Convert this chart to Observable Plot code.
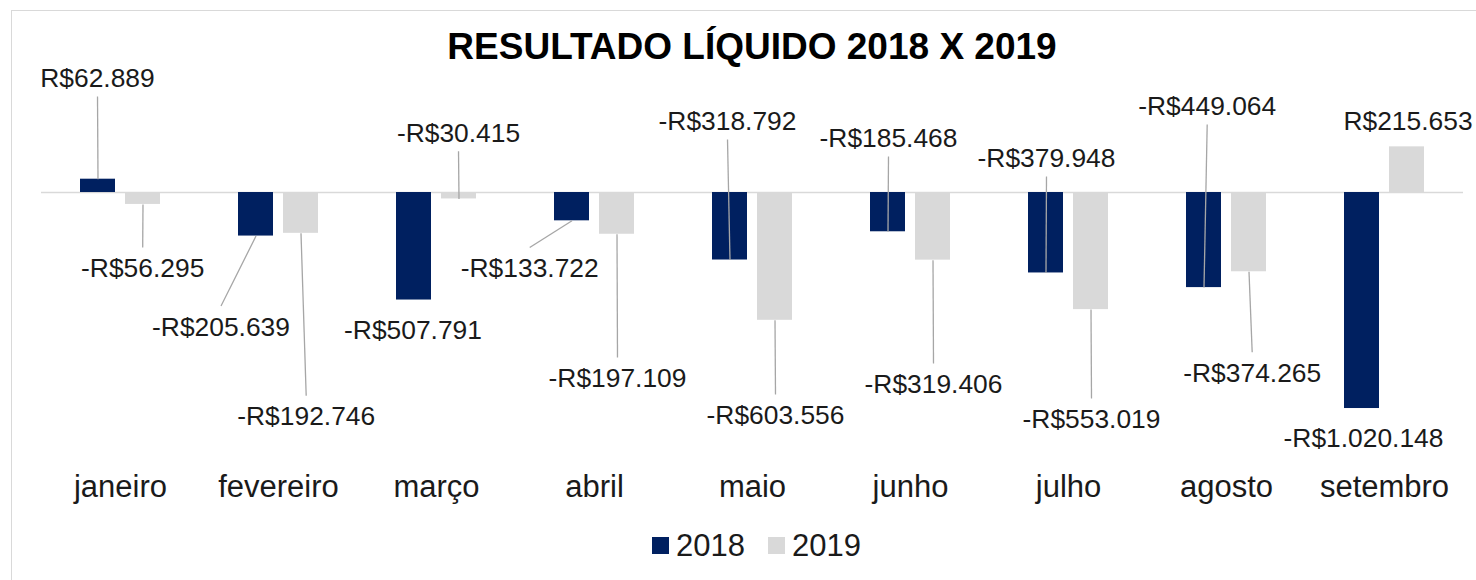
<!DOCTYPE html>
<html>
<head>
<meta charset="utf-8">
<script src="https://cdn.jsdelivr.net/npm/d3@7"></script>
<script src="https://cdn.jsdelivr.net/npm/@observablehq/plot@0.6"></script>
<style>
  html, body { margin: 0; padding: 0; background: #fff; overflow: hidden; width: 1476px; height: 580px; }
  #page { position: relative; width: 1476px; height: 580px; font-family: "Liberation Sans", Arial, sans-serif; color: #1a1a1a; }
  #frame { position: absolute; left: 11px; top: 10px; width: 1500px; height: 600px; border: 1.5px solid #d9d9d9; box-sizing: border-box; pointer-events: none; }
  #title { position: absolute; left: 752px; top: 27.7px; transform: translateX(-50%); white-space: nowrap; font-weight: bold; font-size: 37px; line-height: 37px; color: #000; }
  #chart { position: absolute; left: 0; top: 62px; width: 1476px; height: 458px; }
  #legend { position: absolute; left: 652px; top: 529.5px; height: 31px; display: flex; align-items: center; font-size: 31px; line-height: 31px; }
  .sw { width: 17px; height: 17px; margin-right: 7px; }
  .item { display: flex; align-items: center; margin-right: 23px; }
</style>
</head>
<body>
<div id="page">
  <div id="frame"></div>
  <div id="title">RESULTADO LÍQUIDO 2018 X 2019</div>
  <div id="chart"></div>
  <div id="legend"></div>
</div>
<script>
// ---- data ----
const months = ["janeiro", "fevereiro", "março", "abril", "maio", "junho", "julho", "agosto", "setembro"];
const years = ["2018", "2019"];
const v2018 = [62889, -205639, -507791, -133722, -318792, -185468, -379948, -449064, -1020148];
const v2019 = [-56295, -192746, -30415, -197109, -603556, -319406, -553019, -374265, 215653];
const title = "RESULTADO LÍQUIDO 2018 X 2019";

// ---- styling / label layout (pixel offsets of each label from its bar end) ----
const colors = ["#002060", "#d9d9d9"];
const labelOffset2018 = [[-0.5, -101.7], [-35, 90], [-1, 29.2], [-42.3, 46.7], [-2.5, -139.5], [0.5, -94.3], [0.5, -115.4], [3.2, -182.1], [1.5, 29.5]];
const labelOffset2019 = [[-0.3, 63.1], [5.2, 182.5], [-0.5, -66.7], [0.5, 143.3], [0.5, 94.2], [0.5, 123.4], [0.5, 108.9], [3.2, 100.5], [1, -26.3]];

const W = 1476, H = 458, ML = 41, MR = 13;
const Y_DOMAIN = [-1549000, 614000];
const xu = months.length / (W - ML - MR);          // x units per px
const yu = (Y_DOMAIN[1] - Y_DOMAIN[0]) / H;         // y units per px
const BAR_W = 35, BAR_OFF = 22.5;

const locale = d3.formatLocale({decimal: ",", thousands: ".", grouping: [3], currency: ["R$", ""], minus: "-"});
const fmt = locale.format("$,.0f");

const series = [v2018, v2019];
const offsets = [labelOffset2018, labelOffset2019];
const rows = years.flatMap((yr, s) => series[s].map((v, i) => {
  const cx = i + (s ? 1 : -1) * BAR_OFF * xu;
  const [dxp, dyp] = offsets[s][i];
  const edge = dyp > 0 ? -20 : 19;
  return {
    month: months[i], year: yr, value: v,
    x1: cx - BAR_W / 2 * xu, x2: cx + BAR_W / 2 * xu, cx,
    lx: cx + dxp * xu,
    ly: v - (dyp + 1) * yu,
    ley: v - (dyp + edge) * yu,
    leader: Math.abs(dyp) > 40
  };
}));

const chart = Plot.plot({
  width: W, height: H,
  marginLeft: ML, marginRight: MR, marginTop: 0, marginBottom: 0,
  style: {fontFamily: "'Liberation Sans', Arial, sans-serif", background: "transparent"},
  x: {domain: [-0.5, months.length - 0.5], axis: null},
  y: {domain: Y_DOMAIN, axis: null},
  color: {domain: years, range: colors},
  marks: [
    Plot.ruleY([0], {stroke: "#d9d9d9", strokeWidth: 1.5}),
    Plot.rectY(rows, {x1: "x1", x2: "x2", y1: 0, y2: "value", fill: "year"}),
    Plot.link(rows.filter(d => d.leader), {x1: "cx", y1: "value", x2: "lx", y2: "ley", stroke: "#a6a6a6", strokeWidth: 1.3}),
    Plot.text(rows, {x: "lx", y: "ly", text: d => fmt(d.value), fontSize: 26.4, fill: "#1a1a1a"}),
    Plot.text(months, {x: (d, i) => i, frameAnchor: "bottom", dy: -24, fontSize: 31, fill: "#1a1a1a"})
  ]
});
document.getElementById("chart").appendChild(chart);
document.getElementById("title").textContent = title;

const legend = document.getElementById("legend");
years.forEach((yr, i) => {
  const item = document.createElement("div");
  item.className = "item";
  const sw = document.createElement("div");
  sw.className = "sw";
  sw.style.background = colors[i];
  const t = document.createElement("span");
  t.textContent = yr;
  item.appendChild(sw);
  item.appendChild(t);
  legend.appendChild(item);
});
</script>
</body>
</html>
